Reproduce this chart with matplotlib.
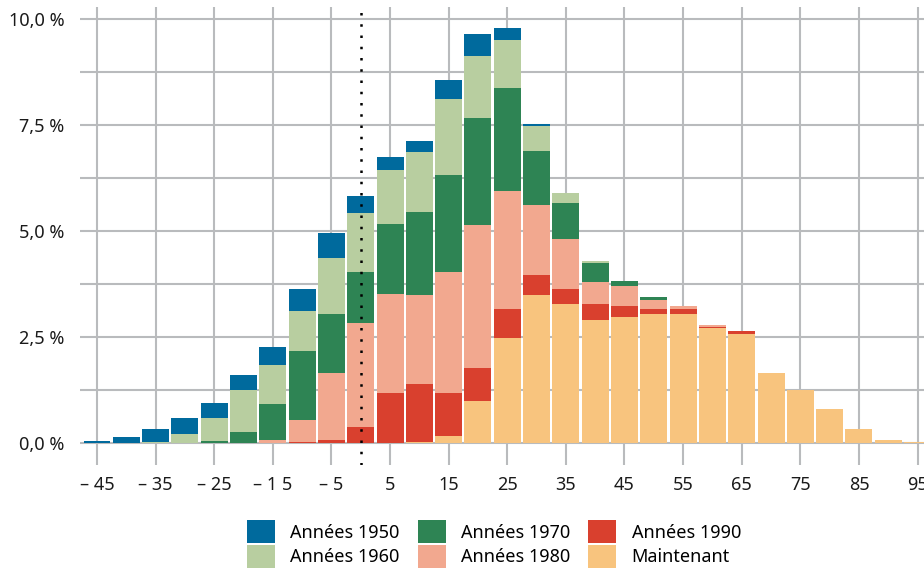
import numpy as np
import matplotlib.pyplot as plt
from matplotlib.patches import Patch

# bin centres (temperature anomaly classes)
bins = list(range(-45, 100, 5))

# segment heights in %, bottom to top of each stack
maintenant = [0, 0, 0, 0, 0, 0, 0, 0, 0, 0, 0, 0.02, 0.16, 0.98, 2.47, 3.48, 3.27, 2.89,
              2.98, 3.05, 3.03, 2.70, 2.58, 1.66, 1.24, 0.79, 0.34, 0.06, 0.02]
annees_1990 = [0, 0, 0, 0, 0, 0, 0, 0.02, 0.06, 0.37, 1.17, 1.36, 1.01, 0.78, 0.68, 0.49, 0.35, 0.38,
               0.24, 0.12, 0.12, 0.04, 0.05, 0, 0, 0, 0, 0, 0]
annees_1980 = [0, 0, 0, 0, 0, 0, 0.06, 0.53, 1.60, 2.47, 2.35, 2.12, 2.85, 3.39, 2.78, 1.63, 1.19, 0.53,
               0.47, 0.21, 0.07, 0.03, 0, 0, 0, 0, 0, 0, 0]
annees_1970 = [0, 0, 0, 0, 0.04, 0.25, 0.87, 1.63, 1.39, 1.20, 1.65, 1.95, 2.31, 2.52, 2.45, 1.29, 0.85, 0.45,
               0.13, 0.05, 0, 0, 0, 0, 0, 0, 0, 0, 0]
annees_1960 = [0, 0, 0.02, 0.20, 0.56, 0.99, 0.90, 0.92, 1.32, 1.39, 1.27, 1.42, 1.79, 1.46, 1.13, 0.59, 0.24, 0.05,
               0, 0, 0, 0, 0, 0, 0, 0, 0, 0, 0]
annees_1950 = [0.04, 0.15, 0.30, 0.38, 0.35, 0.37, 0.44, 0.54, 0.57, 0.40, 0.31, 0.26, 0.44, 0.52, 0.28, 0.05, 0, 0,
               0, 0, 0, 0, 0, 0, 0, 0, 0, 0, 0]

series = [
    ("Maintenant", maintenant, "#f8c47e"),
    ("Années 1990", annees_1990, "#d9402e"),
    ("Années 1980", annees_1980, "#f2a88f"),
    ("Années 1970", annees_1970, "#2e8454"),
    ("Années 1960", annees_1960, "#b8cea0"),
    ("Années 1950", annees_1950, "#006a9d"),
]

xtick_pos = list(range(-45, 100, 10))
xtick_labels = ["– 45", "– 35", "– 25", "– 1 5", "– 5", "5", "15", "25", "35", "45",
                "55", "65", "75", "85", "95"]
ytick_pos = [0, 2.5, 5.0, 7.5, 10.0]
ytick_labels = ["0,0 %", "2,5 %", "5,0 %", "7,5 %", "10,0 %"]

plt.rcParams['font.family'] = ['Noto Sans', 'DejaVu Sans']
grid_col = "#b9bbbd"

fig = plt.figure(figsize=(9.24, 5.78), dpi=100)
ax = fig.add_axes([80 / 924, (578 - 465) / 578, 844 / 924, 458 / 578])

for y in np.arange(0, 10.01, 1.25):
    ax.axhline(y, color=grid_col, lw=1.5, zorder=0)
for x in xtick_pos:
    ax.axvline(x, color=grid_col, lw=1.5, zorder=0)

bottom = np.zeros(len(bins))
for name, vals, col in series:
    vals = np.array(vals)
    ax.bar(bins, vals, width=4.6, bottom=bottom, color=col, linewidth=0, zorder=2)
    bottom += vals

ax.axvline(0, color="black", lw=1.8, linestyle=(0, (1, 3.5)), zorder=3)

ax.set_xlim(-47.9, 96.1)
ax.set_ylim(-0.52, 10.28)
ax.set_xticks(xtick_pos)
ax.set_xticklabels(xtick_labels)
ax.set_yticks(ytick_pos)
ax.set_yticklabels(ytick_labels)
ax.tick_params(axis='both', length=0, labelsize=13, colors="#1a1a1a")
ax.tick_params(axis='x', pad=8)
ax.tick_params(axis='y', pad=11)
for s in ax.spines.values():
    s.set_visible(False)

order = ["Années 1950", "Années 1960", "Années 1970", "Années 1980", "Années 1990", "Maintenant"]
colors = {name: col for name, _, col in series}
handles = [Patch(facecolor=colors[n], edgecolor="none", label=n) for n in order]
fig.legend(handles=handles, ncol=3, loc="upper left", bbox_to_anchor=(247 / 924, 1 - 520 / 578),
           frameon=False, fontsize=13, handlelength=1.55, handleheight=1.6,
           handletextpad=0.85, columnspacing=1.0, labelspacing=0.08, borderpad=0, borderaxespad=0)

fig.savefig("out.png", dpi=100)
